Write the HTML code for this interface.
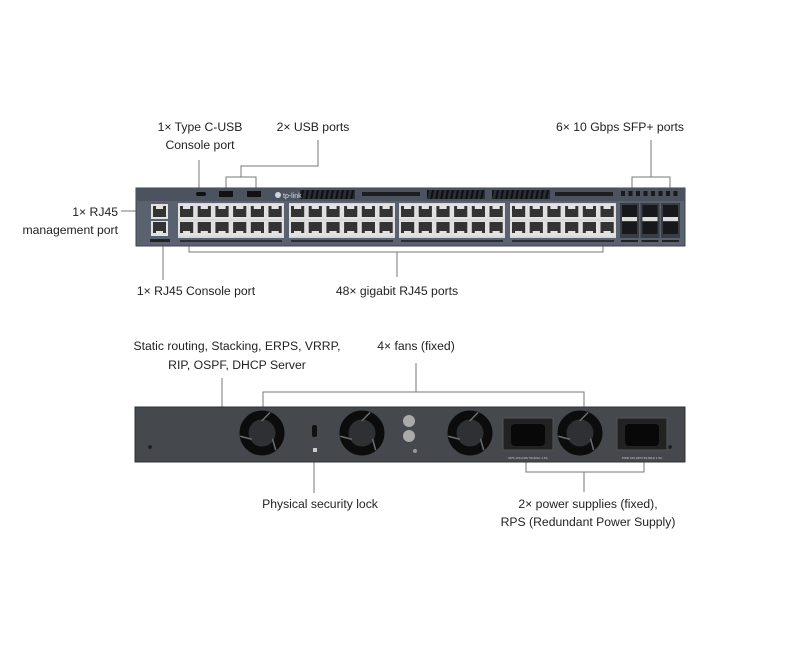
<!DOCTYPE html>
<html><head><meta charset="utf-8"><style>
html,body{margin:0;padding:0;background:#fff;}
svg text{font-family:"Liberation Sans",sans-serif;font-size:12.2px;fill:#222;}
</style></head><body>
<svg id="s" width="800" height="640" viewBox="0 0 800 640" xmlns="http://www.w3.org/2000/svg">
<rect width="800" height="640" fill="#fff"/>
<g stroke="#777" stroke-width="1" fill="none">
<path d="M199 160V188"/>
<path d="M318 140V166H241V177M226 188V177H256V188"/>
<path d="M651 140V177M632 188V177H670V188"/>
<path d="M121 211H136"/>
<path d="M163 246V280"/>
<path d="M189 246V252H603V246M397 252V277"/>
<path d="M222 378V407"/>
<path d="M416 363V392M263 407V392H584V407"/>
<path d="M314 462V493"/>
<path d="M526 462V472H644V462M584 472V492"/>
</g>
<text x="200" y="131" text-anchor="middle">1× Type C-USB</text>
<text x="200" y="149" text-anchor="middle">Console port</text>
<text x="313" y="131" text-anchor="middle">2× USB ports</text>
<text x="620" y="131" text-anchor="middle">6× 10 Gbps SFP+ ports</text>
<text x="118" y="216" text-anchor="end">1× RJ45</text>
<text x="118" y="234" text-anchor="end">management port</text>
<text x="196" y="295" text-anchor="middle">1× RJ45 Console port</text>
<text x="397" y="295" text-anchor="middle">48× gigabit RJ45 ports</text>
<text x="237" y="350" text-anchor="middle">Static routing, Stacking, ERPS, VRRP,</text>
<text x="237" y="369" text-anchor="middle">RIP, OSPF, DHCP Server</text>
<text x="416" y="350" text-anchor="middle">4× fans (fixed)</text>
<text x="320" y="508" text-anchor="middle">Physical security lock</text>
<text x="588" y="508" text-anchor="middle">2× power supplies (fixed),</text>
<text x="588" y="526" text-anchor="middle">RPS (Redundant Power Supply)</text>

<defs>
<pattern id="vent" width="5" height="10" patternUnits="userSpaceOnUse"><rect width="5" height="10" fill="#2a2d33"/><path d="M1 10L3 0" stroke="#0e0f12" stroke-width="2"/></pattern>
</defs>
<rect x="136" y="188" width="549" height="58" fill="#5a6270" stroke="#3d424b"/>
<rect x="137" y="189" width="547" height="12" fill="#4d535e"/>
<rect x="300" y="190" width="55" height="9" fill="url(#vent)"/>
<rect x="362" y="192" width="58" height="4" fill="#1c1e22"/>
<rect x="427" y="190" width="58" height="9" fill="url(#vent)"/>
<rect x="492" y="190" width="58" height="9" fill="url(#vent)"/>
<rect x="555" y="192" width="58" height="4" fill="#1c1e22"/>
<rect x="196" y="192" width="10" height="4" rx="2" fill="#111"/>
<rect x="219" y="191" width="14" height="6" fill="#111"/>
<rect x="247" y="191" width="14" height="6" fill="#111"/>
<text x="283" y="198" style="font-size:7px;fill:#dde;">tp-link</text>
<circle cx="278" cy="195" r="3" fill="#cfd6e0"/>
<g id="ports"></g>
<rect x="135" y="407" width="550" height="55" fill="#45484d" stroke="#2e3034"/>
<g id="back"></g>
<circle cx="409" cy="421" r="6" fill="#aaa"/><circle cx="409" cy="436" r="6" fill="#aaa"/>
<circle cx="415" cy="451" r="2" fill="#999"/>
<rect x="312" y="425" width="5" height="12" rx="2" fill="#111"/>
<rect x="313" y="448" width="4" height="4" fill="#ccc"/>
<rect x="503" y="418" width="50" height="32" fill="#222" stroke="#555"/>
<rect x="511" y="424" width="34" height="22" rx="4" fill="#080808"/>
<rect x="617" y="418" width="50" height="32" fill="#222" stroke="#555"/>
<rect x="625" y="424" width="34" height="22" rx="4" fill="#080808"/>
<circle cx="150" cy="447" r="2" fill="#222"/><circle cx="670" cy="447" r="2" fill="#222"/>
<text x="528" y="459" text-anchor="middle" style="font-size:3px;fill:#ccc">RPS 100-240V 50-60Hz 1.5A</text>
<text x="642" y="459" text-anchor="middle" style="font-size:3px;fill:#ccc">PWR 100-240V 50-60Hz 1.5A</text>
</svg>
<script>
var ns="http://www.w3.org/2000/svg",P=document.getElementById('ports'),B=document.getElementById('back');
function r(p,x,y,w,h,f){var e=document.createElementNS(ns,'rect');e.setAttribute('x',x);e.setAttribute('y',y);e.setAttribute('width',w);e.setAttribute('height',h);e.setAttribute('fill',f);p.appendChild(e);}
function port(x,y,w,top){r(P,x,y,w,15,'#e2e2e2');r(P,x+2,y+(top?2:1),w-4,11,'#333');r(P,x+5,top?y+2:y+10,w-10,3,'#e2e2e2');}
port(151,204,17,true);port(151,221,17,false);
r(P,150,239,20,3,'#222');
[178,289,399,510].forEach(function(g){r(P,g,203,106,35,'#d8d8d8');for(var i=0;i<6;i++){port(g+i*17.7,204,17.2,true);port(g+i*17.7,221,17.2,false);}r(P,g+2,240,102,2,'#2b2e33');});
for(var i=0;i<3;i++){var x=620+i*20.5;r(P,x,203,19,35,'#3a3d44');r(P,x+2,205,15,12,'#16181b');r(P,x+2,222,15,12,'#16181b');r(P,x+2,217,15,4,'#ddd');r(P,x+1,240,17,2,'#222');}
for(var i=0;i<8;i++){r(P,621+i*7.5,191,4,5,'#1a1a1a');}
[262,362,470,580].forEach(function(cx){var c=document.createElementNS(ns,'circle');c.setAttribute('cx',cx);c.setAttribute('cy',433);c.setAttribute('r',18);c.setAttribute('fill','#2e3034');c.setAttribute('stroke','#0c0c0c');c.setAttribute('stroke-width',9);B.appendChild(c);
for(var k=0;k<3;k++){var a=k*2.094+0.5,l=document.createElementNS(ns,'line');l.setAttribute('x1',cx+12*Math.cos(a));l.setAttribute('y1',433+12*Math.sin(a));l.setAttribute('x2',cx+22*Math.cos(a+0.4));l.setAttribute('y2',433+22*Math.sin(a+0.4));l.setAttribute('stroke','#6a6d72');l.setAttribute('stroke-width','1.5');B.appendChild(l);}});
</script>
</body></html>
